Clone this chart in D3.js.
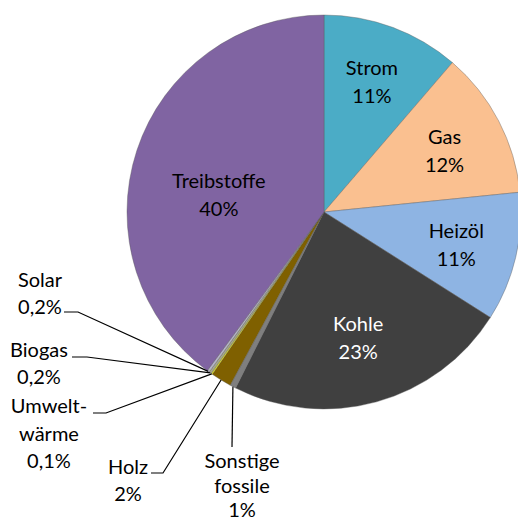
<!DOCTYPE html>
<html><head><meta charset="utf-8">
<script src="https://cdn.jsdelivr.net/npm/d3@7"></script>
<style>
html,body{margin:0;padding:0;background:#fff;overflow:hidden}
text{font-family:Lato,"Open Sans",sans-serif;font-size:20px}
</style></head>
<body>
<svg id="chart" width="518" height="523"></svg>
<script>
const categories = ["Strom","Gas","Heizöl","Kohle","Sonstige fossile","Holz","Umweltwärme","Biogas","Solar","Treibstoffe"];
const values = [11.3, 12.1, 10.6, 23.4, 0.5, 1.7, 0.1, 0.2, 0.2, 39.9];
const valueLabels = ["11%","12%","11%","23%","1%","2%","0,1%","0,2%","0,2%","40%"];
const colors = ["#4BACC6","#FAC090","#8EB4E3","#404040","#7F7F7F","#7F6000","#FFFF00","#A6A98A","#B4B2C8","#8064A2"];

const svg = d3.select("#chart");
const cx = 324, cy = 212, R = 197;
const g = svg.append("g").attr("transform", `translate(${cx},${cy})`);

const data = categories.map((c,i)=>({name:c, value:values[i], label:valueLabels[i], color:colors[i], i}));
const pie = d3.pie().value(d=>d.value).sort(null);
const arcs = pie(data);
const arc = d3.arc().innerRadius(0).outerRadius(R);

g.selectAll("path.slice").data(arcs).join("path")
  .attr("class","slice")
  .attr("d", arc)
  .attr("fill", d=>d.data.color)
  .attr("stroke", "#5a5a5a")
  .attr("stroke-width", 0.4);

// inside labels: radius factor and small nudges
const inside = {
  "Strom":{r:0.70,dx:0,dy:-1},
  "Gas":{r:0.69,dx:0,dy:2},
  "Heizöl":{r:0.69,dx:0,dy:2},
  "Kohle":{r:0.65,dx:0,dy:3},
  "Treibstoffe":{r:0.53,dx:-6,dy:16}
};
arcs.filter(a=>inside[a.data.name]).forEach(a=>{
  const o = inside[a.data.name];
  const m = (a.startAngle+a.endAngle)/2;
  const rr = R*o.r;
  const x = Math.sin(m)*rr + o.dx, y = -Math.cos(m)*rr + o.dy;
  const t = g.append("text").attr("text-anchor","middle")
    .attr("fill", a.data.name==="Kohle" ? "#fff" : "#000");
  t.append("tspan").attr("x",x).attr("y",y-14).attr("dy","0.35em").text(a.data.name);
  t.append("tspan").attr("x",x).attr("y",y+14).attr("dy","0.35em").text(a.data.label);
});

// outside labels with leader lines (layout in page coordinates)
const outside = {
  "Solar":          {lines:["Solar","0,2%"], tx:40, ty:[280,307], elbow:[[64,312],[78,312]]},
  "Biogas":         {lines:["Biogas","0,2%"], tx:39, ty:[350,377], elbow:[[72,357],[87,357]]},
  "Umweltwärme":    {lines:["Umwelt-","wärme","0,1%"], tx:49, ty:[406,434,461], elbow:[[93,413],[106,413]]},
  "Holz":           {lines:["Holz","2%"], tx:128, ty:[467,494], elbow:[[151,473],[163,473]]},
  "Sonstige fossile":{lines:["Sonstige","fossile","1%"], tx:242, ty:[461,486,510], elbow:[[232,447]]}
};
arcs.filter(a=>outside[a.data.name]).forEach(a=>{
  const o = outside[a.data.name];
  const m = (a.startAngle+a.endAngle)/2;
  const px = cx + Math.sin(m)*R, py = cy - Math.cos(m)*R;
  const pts = o.elbow.concat([[px,py]]);
  svg.append("path").attr("d", d3.line()(pts))
    .attr("fill","none").attr("stroke","#000").attr("stroke-width",1.2);
  const t = svg.append("text").attr("text-anchor","middle").attr("fill","#000");
  o.lines.forEach((l,k)=>t.append("tspan").attr("x",o.tx).attr("y",o.ty[k]).attr("dy","0.35em").text(l));
});
</script>
</body></html>
